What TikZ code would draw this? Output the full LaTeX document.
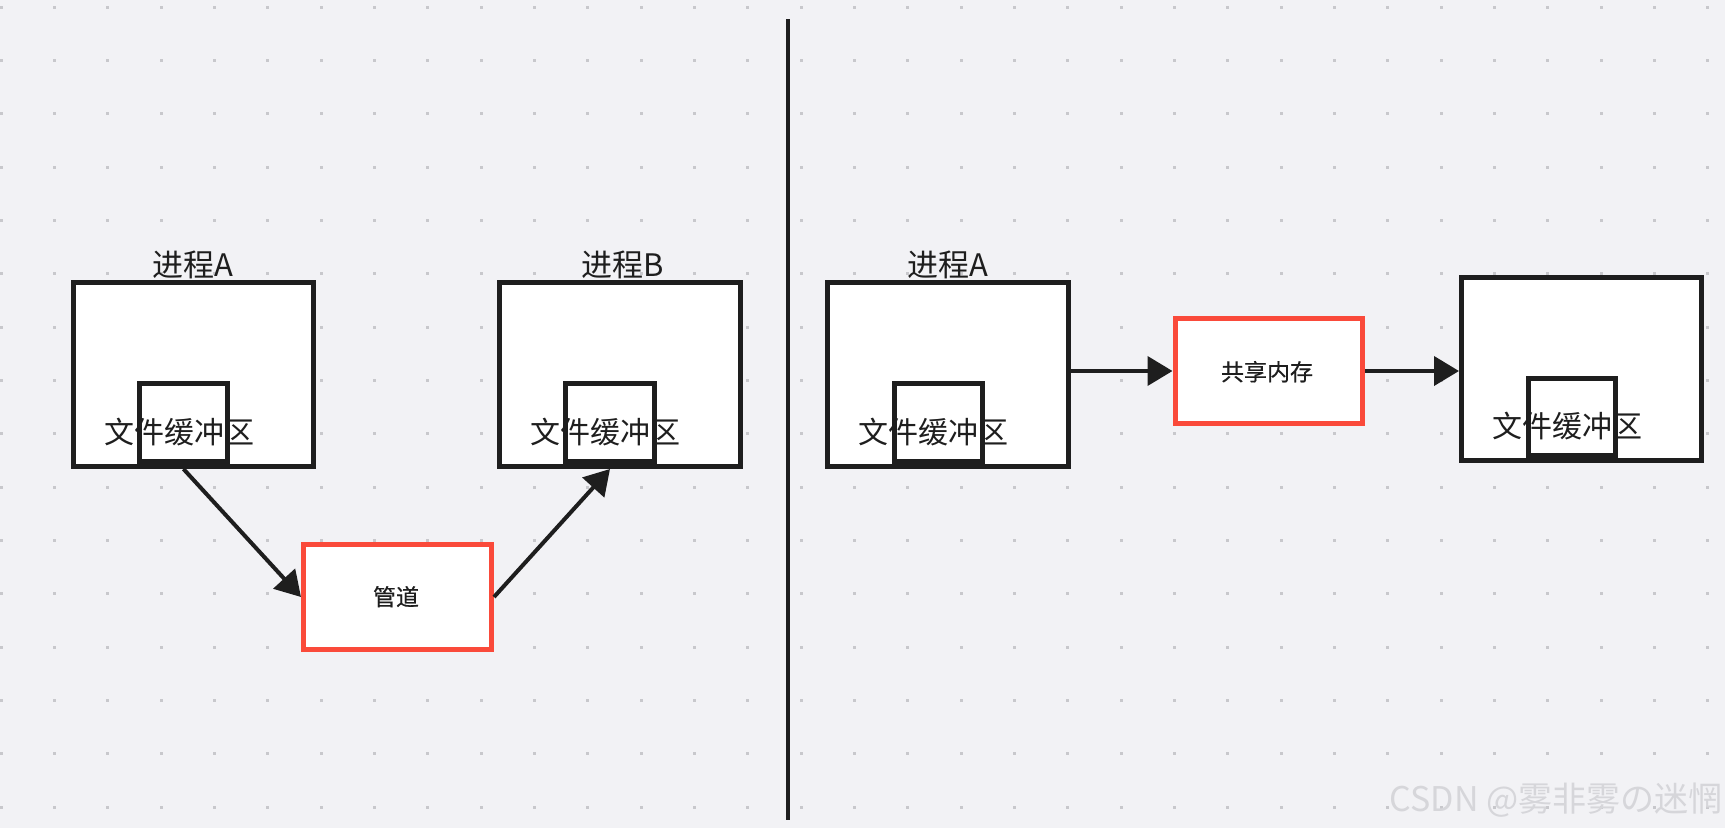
\documentclass[tikz,border=0pt]{standalone}
\usepackage{fontspec}
\newfontfamily\cjk{Noto Sans CJK SC}
\newfontfamily\cjkm{Noto Sans CJK SC}[FakeBold=0.6]
\usetikzlibrary{arrows.meta,calc}
\definecolor{bg}{RGB}{242,242,245}
\definecolor{dotc}{RGB}{200,200,204}
\definecolor{ink}{RGB}{30,30,30}
\definecolor{redc}{RGB}{250,74,58}
\definecolor{wm}{RGB}{214,214,218}
\begin{document}
\begin{tikzpicture}[x=1pt,y=-1pt,
  proc/.style={draw=ink,line width=5pt,fill=white,inner sep=0pt},
  buf/.style={draw=ink,line width=5pt,inner sep=0pt},
  mem/.style={draw=redc,line width=5pt,fill=white,inner sep=0pt,minimum width=188pt,minimum height=105pt},
  memtxt/.style={inner sep=0pt,anchor=base,font=\cjkm\fontsize{23}{23}\selectfont,text=ink},
  lbl/.style={inner sep=0pt,anchor=base,font=\cjk\fontsize{30}{30}\selectfont,text=ink},
  ttl/.style={inner sep=0pt,anchor=base,font=\cjk\fontsize{31}{31}\selectfont,text=ink},
  conn/.style={draw=ink,line width=4pt,-{Triangle[length=25pt,width=29pt]}},
  divider/.style={draw=ink,line width=4pt}]
% background
\fill[bg] (0,0) rectangle (1725,828);
\useasboundingbox (0,0) rectangle (1725,828);
\foreach \i in {0,...,32}{
  \foreach \j in {0,...,15}{
    \fill[dotc] ({1+\i*53.333-1.5},{7+\j*53.333-1.5}) rectangle ++(3,3);
  }
}
% ---------- left: pipe ----------
\node[proc,minimum width=240pt,minimum height=184pt] (A) at (193.5,374.5) {};
\node[ttl] (Alab) at (193,276) {进程A};
\node[lbl] (Atxt) at (179,443) {文件缓冲区};
\node[buf,minimum width=88pt,minimum height=77.5pt] (bufA) at (183.5,422.25) {};

\node[proc,minimum width=241pt,minimum height=184pt] (B) at (620,374.5) {};
\node[ttl] (Blab) at (623,276) {进程B};
\node[lbl] (Btxt) at (605.5,443) {文件缓冲区};
\node[buf,minimum width=89pt,minimum height=77.5pt] (bufB) at (610,422.25) {};

\node[mem] (pipe) at (397.5,597) {};
\node[memtxt] (pipetxt) at (396,605.5) {管道};

\draw[conn] (bufA.south |- A.south) -- (pipe.west);
\draw[conn] (pipe.east) -- (bufB.south |- B.south);

% ---------- divider ----------
\coordinate (dtop) at (788,19);
\coordinate (dbot) at (788,820);
\draw[divider] (dtop) -- (dbot);

% ---------- right: shared memory ----------
\node[proc,minimum width=241pt,minimum height=184pt] (A2) at (948,374.5) {};
\node[ttl] (A2lab) at (948,276) {进程A};
\node[lbl] (A2txt) at (933.5,443) {文件缓冲区};
\node[buf,minimum width=88pt,minimum height=77.5pt] (bufA2) at (938.5,422.25) {};

\node[mem,minimum width=187.5pt] (shm) at (1268.75,371) {};
\node[memtxt] (shmtxt) at (1267,380.5) {共享内存};

\node[proc,minimum width=240pt,minimum height=183pt] (C) at (1581.5,369) {};
\node[lbl] (Ctxt) at (1567,437) {文件缓冲区};
\node[buf,minimum width=87pt,minimum height=77pt] (bufC) at (1572,417) {};

\draw[conn] (A2.east |- shm.west) -- (shm.west);
\draw[conn] (shm.east) -- (shm.east -| C.west);

% watermark
\node[inner sep=0pt,anchor=base,font=\cjk\fontsize{34}{34}\selectfont,text=wm] (wmk) at (1556,811) {CSDN @雾非雾の迷惘};
\end{tikzpicture}
\end{document}
